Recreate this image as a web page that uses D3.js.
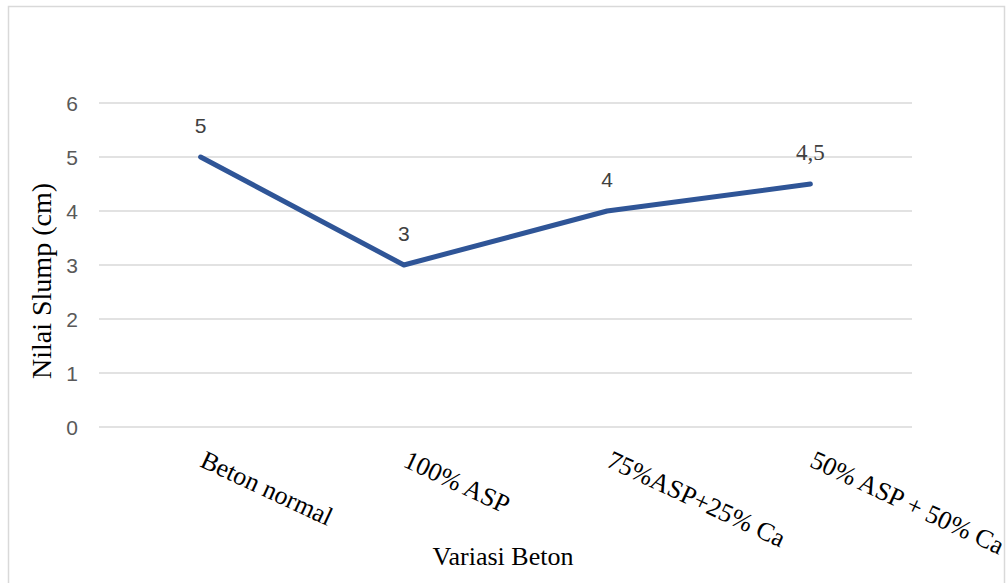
<!DOCTYPE html>
<html><head><meta charset="utf-8">
<script src="https://cdn.jsdelivr.net/npm/d3@7"></script>
<style>body{margin:0;background:#fff}svg{display:block}</style>
</head><body>
<svg id="c" width="1007" height="583"></svg>
<script>
const categories = ["Beton normal", "100% ASP", "75%ASP+25% Ca", "50% ASP + 50% Ca"];
const values = [5, 3, 4, 4.5];
const valueLabels = ["5", "3", "4", "4,5"];
const yTicks = [0, 1, 2, 3, 4, 5, 6];
const xTitle = "Variasi Beton";
const yTitle = "Nilai Slump (cm)";

const svg = d3.select("#c");
svg.append("rect").attr("x", 8.5).attr("y", 6.5).attr("width", 996).attr("height", 600)
  .attr("fill", "#fff").attr("stroke", "#d9d9d9").attr("stroke-width", 1.5);

const x = d3.scaleBand().domain(categories).range([99, 912]);
const y = d3.scaleLinear().domain([0, 6]).range([427, 103]);

const grid = svg.append("g");
grid.selectAll("line").data(yTicks).join("line")
  .attr("x1", 99).attr("x2", 912)
  .attr("y1", d => y(d)).attr("y2", d => y(d))
  .attr("stroke", "#d9d9d9").attr("stroke-width", 1.5);

const yAxis = svg.append("g").attr("transform", "translate(99,0)")
  .call(d3.axisLeft(y).tickValues(yTicks).tickSize(0).tickPadding(21).tickFormat(d3.format("d")));
yAxis.select(".domain").remove();
yAxis.selectAll("text").attr("font-family", "Liberation Sans, Arial, sans-serif")
  .attr("font-size", 21).attr("fill", "#595959").attr("dy", "0.36em");

const xAxis = svg.append("g").attr("transform", "translate(0,427)")
  .call(d3.axisBottom(x).tickSize(0).tickFormat(d => d));
xAxis.select(".domain").remove();
xAxis.selectAll("text")
  .attr("font-family", "Liberation Serif, Times New Roman, serif")
  .attr("font-size", 26).attr("fill", "#000")
  .attr("text-anchor", "start")
  .attr("dy", 0).attr("y", 0)
  .attr("transform", "translate(-2,39) rotate(25)");

const line = d3.line().x((d, i) => x(categories[i]) + x.bandwidth() / 2).y(d => y(d));
svg.append("path").datum(values).attr("d", line)
  .attr("fill", "none").attr("stroke", "#2F5597").attr("stroke-width", 5)
  .attr("stroke-linecap", "round").attr("stroke-linejoin", "round");

svg.append("g").selectAll("text").data(values).join("text")
  .attr("x", (d, i) => x(categories[i]) + x.bandwidth() / 2)
  .attr("y", d => y(d) - 24)
  .attr("text-anchor", "middle")
  .style("font-family", (d, i) => i === 3 ? "'Liberation Serif', serif" : "'Liberation Sans', Arial, sans-serif")
  .attr("font-size", (d, i) => i === 3 ? 23 : 21)
  .attr("fill", "#404040")
  .text((d, i) => valueLabels[i]);

svg.append("text").attr("x", 503).attr("y", 565).attr("text-anchor", "middle")
  .attr("font-family", "Liberation Serif, Times New Roman, serif").attr("font-size", 26)
  .attr("fill", "#000").text(xTitle);

svg.append("text").attr("transform", "translate(51,281) rotate(-90)").attr("text-anchor", "middle")
  .attr("font-family", "Liberation Serif, Times New Roman, serif").attr("font-size", 28)
  .attr("fill", "#000").text(yTitle);
</script>
</body></html>
